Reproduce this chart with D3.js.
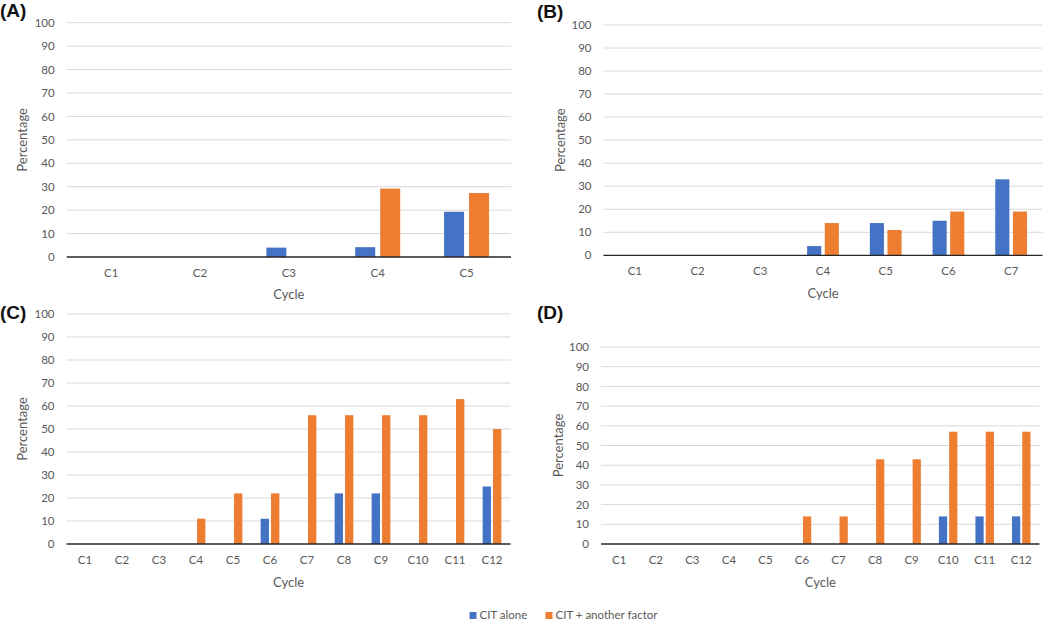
<!DOCTYPE html>
<html><head><meta charset="utf-8">
<script src="https://cdn.jsdelivr.net/npm/d3@7"></script>
<style>
body{margin:0;background:#fff;}
svg{display:block;font-family:Lato, "Noto Sans", sans-serif;}
</style></head>
<body>
<svg id="c" width="1050" height="621"></svg>
<script>
// ---- data ----
const series = ["CIT alone", "CIT + another factor"];
const colors = ["#4472C4", "#ED7D31"];
const yTicks = [0,10,20,30,40,50,60,70,80,90,100];

const catsA = ["C1","C2","C3","C4","C5"];
const aloneA = [0, 0, 4, 4.2, 19.3];
const otherA = [0, 0, 0, 29.2, 27.3];

const catsB = ["C1","C2","C3","C4","C5","C6","C7"];
const aloneB = [0, 0, 0, 4, 14, 15, 33];
const otherB = [0, 0, 0, 14, 11, 19, 19];

const catsC = ["C1","C2","C3","C4","C5","C6","C7","C8","C9","C10","C11","C12"];
const aloneC = [0, 0, 0, 0, 0, 11, 0, 22, 22, 0, 0, 25];
const otherC = [0, 0, 0, 11, 22, 22, 56, 56, 56, 56, 63, 50];

const catsD = ["C1","C2","C3","C4","C5","C6","C7","C8","C9","C10","C11","C12"];
const aloneD = [0, 0, 0, 0, 0, 0, 0, 0, 0, 14, 14, 14];
const otherD = [0, 0, 0, 0, 0, 14, 14, 43, 43, 57, 57, 57];

const panels = [
  {label:"(A)", cats:catsA, vals:[aloneA, otherA], x:[66.7,511], y:[257,22.7], lx:0, ly:17, ylabX:22, xlabY:294},
  {label:"(B)", cats:catsB, vals:[aloneB, otherB], x:[603.5,1042.5], y:[255.3,25], lx:537, ly:18, ylabX:560, xlabY:293},
  {label:"(C)", cats:catsC, vals:[aloneC, otherC], x:[66.5,510.5], y:[544,314], lx:0, ly:319, ylabX:22, xlabY:582},
  {label:"(D)", cats:catsD, vals:[aloneD, otherD], x:[601,1039.5], y:[544,347], lx:537, ly:319, ylabX:558, xlabY:582}
];

const svg = d3.select("#c");
const textCol = "#595959";

panels.forEach(p => {
  const g = svg.append("g");
  const x0 = d3.scaleBand().domain(p.cats).range(p.x).paddingInner(0.494).paddingOuter(0.247);
  const x1 = d3.scaleBand().domain(series).range([0, x0.bandwidth()]).paddingInner(0.2);
  const y = d3.scaleLinear().domain([0,100]).range(p.y);

  // gridlines
  g.append("g").selectAll("line").data(yTicks.filter(t=>t>0)).join("line")
    .attr("x1", p.x[0]).attr("x2", p.x[1])
    .attr("y1", d=>y(d)).attr("y2", d=>y(d))
    .attr("stroke", "#d9d9d9").attr("stroke-width", 1);

  // y axis labels
  const ya = d3.axisLeft(y).tickValues(yTicks).tickSize(0).tickPadding(12);
  const yg = g.append("g").attr("transform", `translate(${p.x[0]},0)`).call(ya);
  yg.select(".domain").remove();
  yg.selectAll("text").attr("fill", textCol).style("font-size","11.5px").style("font-family","Lato, sans-serif");

  // bars
  const rows = p.cats.map((c,i)=>({cat:c, v: series.map((s,k)=>({s, k, val:p.vals[k][i]}))}));
  g.append("g").selectAll("g").data(rows).join("g")
    .attr("transform", d=>`translate(${x0(d.cat)},0)`)
    .selectAll("rect").data(d=>d.v.filter(e=>e.val>0)).join("rect")
    .attr("x", d=>x1(d.s)).attr("width", x1.bandwidth())
    .attr("y", d=>y(d.val)).attr("height", d=>y(0)-y(d.val))
    .attr("fill", d=>colors[d.k]);

  // x axis
  const xa = d3.axisBottom(x0).tickSize(0).tickPadding(12);
  const xg = g.append("g").attr("transform", `translate(0,${y(0)})`).call(xa);
  xg.select(".domain").attr("stroke", "#262626").attr("stroke-width", 1.3).attr("d", `M${p.x[0]},0H${p.x[1]}`);
  xg.selectAll("text").attr("fill", textCol).style("font-size","11.5px").style("font-family","Lato, sans-serif");

  // axis titles
  g.append("text").attr("x", (p.x[0]+p.x[1])/2).attr("y", p.xlabY).attr("dy","0.35em")
    .attr("text-anchor","middle").attr("fill", textCol).style("font-size","13px").text("Cycle");
  const yc = (p.y[0]+p.y[1])/2;
  g.append("text").attr("transform", `translate(${p.ylabX},${yc}) rotate(-90)`).attr("dy","0.35em")
    .attr("text-anchor","middle").attr("fill", textCol).style("font-size","13px").text("Percentage");

  // panel label
  svg.append("text").attr("x", p.lx).attr("y", p.ly)
    .style("font-family","'Liberation Sans', Arial, sans-serif").style("font-weight","bold").style("font-size","19px")
    .attr("fill","#111").text(p.label);
});

// legend
const legX = [469.5, 545.5];
const leg = svg.append("g");
series.forEach((s,k)=>{
  leg.append("rect").attr("x", legX[k]).attr("y", 612).attr("width", 7).attr("height", 7).attr("fill", colors[k]);
  leg.append("text").attr("x", legX[k]+10).attr("y", 619)
    .attr("fill", textCol).style("font-size","11.5px").text(s);
});
</script>
</body></html>
